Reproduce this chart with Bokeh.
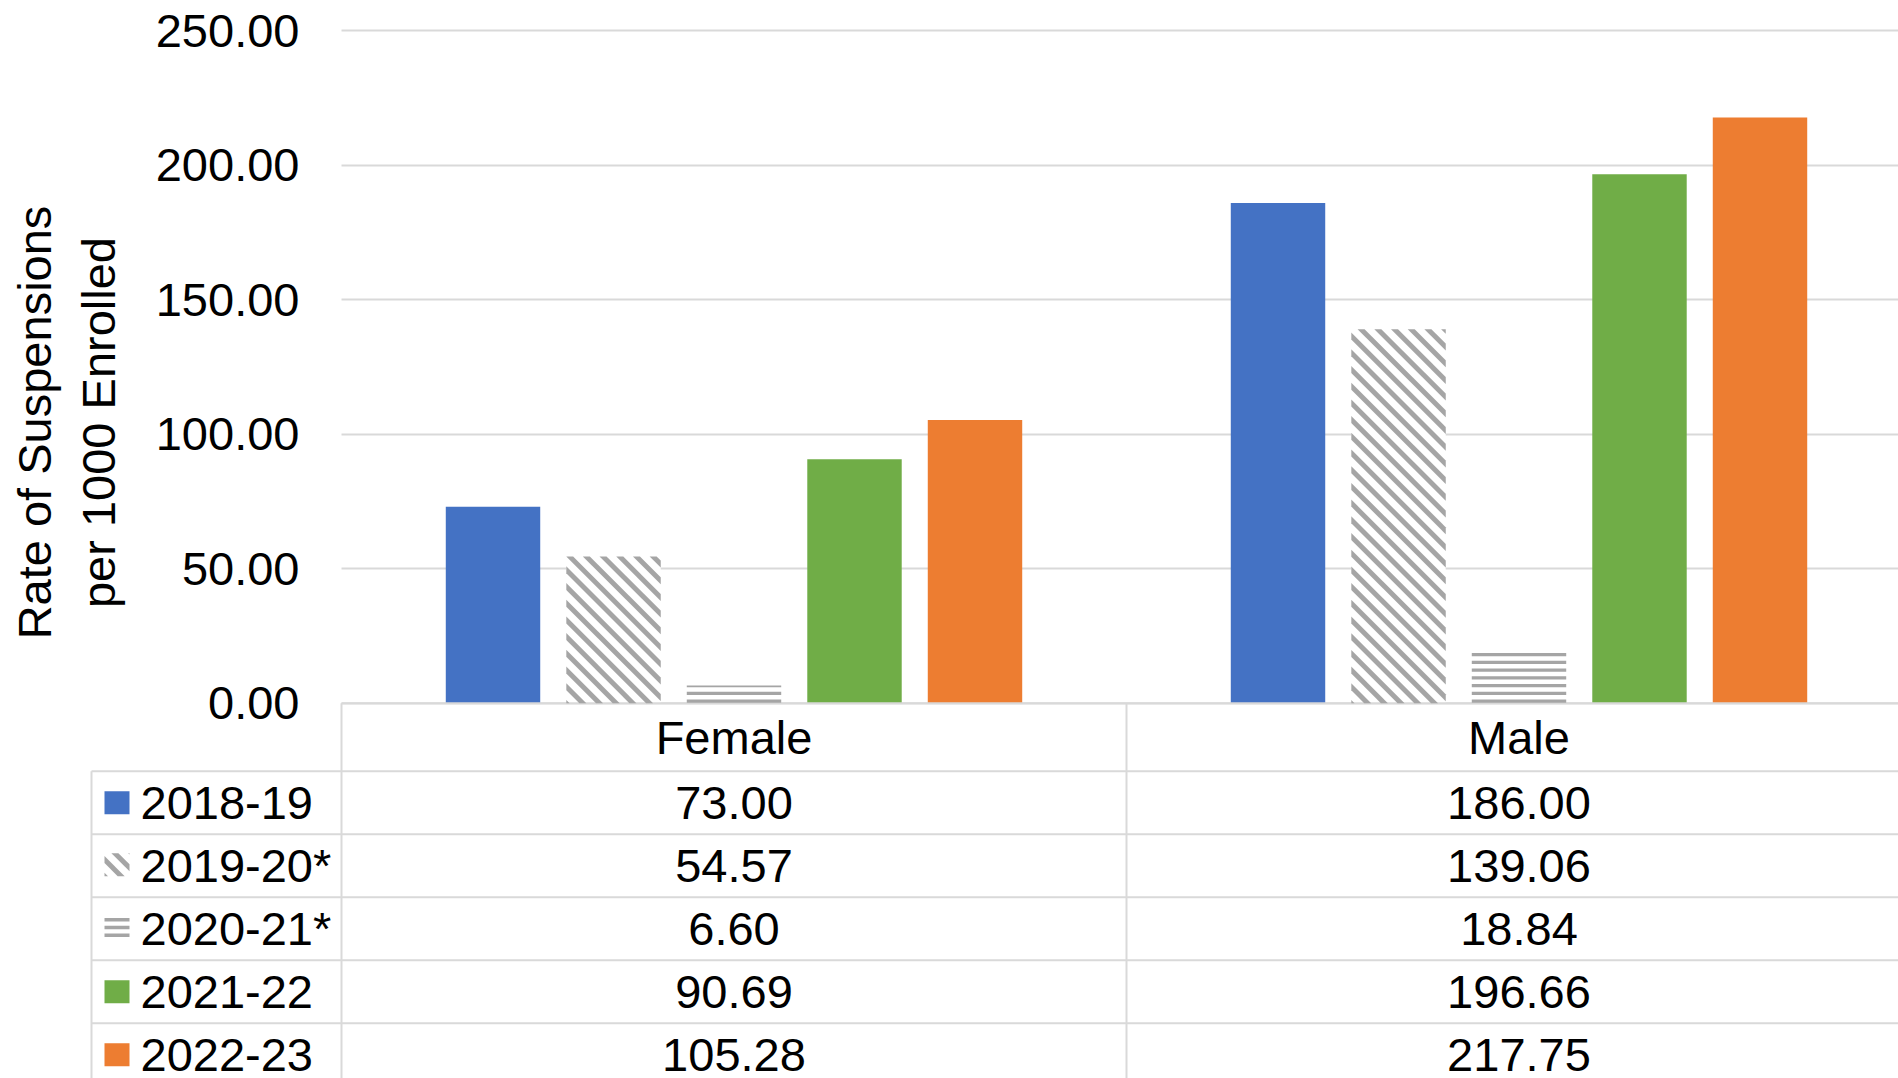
import math
from bokeh.plotting import figure
from bokeh.models import Range1d, FixedTicker, NumeralTickFormatter, Label, Grid
from bokeh.embed import file_html
from bokeh.resources import INLINE
from bokeh.core.properties import value

# ---- data ----
categories = ["Female", "Male"]
years = ["2018-19", "2019-20*", "2020-21*", "2021-22", "2022-23"]
rate_2018_19 = [73.00, 186.00]
rate_2019_20 = [54.57, 139.06]
rate_2020_21 = [6.60, 18.84]
rate_2021_22 = [90.69, 196.66]
rate_2022_23 = [105.28, 217.75]
y_ticks = [0, 50, 100, 150, 200, 250]
axis_title = "Rate of Suspensions\nper 1000 Enrolled"

series = [rate_2018_19, rate_2019_20, rate_2020_21, rate_2021_22, rate_2022_23]

# ---- styles ----
FONT = "Liberation Sans"
FS = "47px"
GRID = "#d9d9d9"
HATCH = "#a5a5a5"
fills = ["#4472C4", "white", "white", "#70AD47", "#ED7D31"]
patterns = [None, "diagonal", "horizontal", None, None]

# ---- layout constants (pixels) ----
W, H = 1898, 1078
PLOT_LEFT = 341.0        # x where the first category starts
PX_PER_CAT = 785.0       # width of one category
ZERO_Y = 702.7           # pixel row of value 0
PX_PER_VAL = 2.6896      # pixels per unit of value
STEP = 0.1535            # distance between bars of one category (in categories)
BAR_W = 0.1203
DIAG_PERIOD, DIAG_WIDTH = 16.7, 7.0
HORIZ_PERIOD, HORIZ_WIDTH = 7.75, 3.3

X_START = -PLOT_LEFT / PX_PER_CAT
X_END = (W - PLOT_LEFT) / PX_PER_CAT
Y_START = (ZERO_Y - H) / PX_PER_VAL
Y_END = ZERO_Y / PX_PER_VAL


def to_px_x(xd):
    return PLOT_LEFT + xd * PX_PER_CAT


def to_px_y(yd):
    return ZERO_Y - yd * PX_PER_VAL


def from_px_x(px):
    return (px - PLOT_LEFT) / PX_PER_CAT


def from_px_y(py):
    return (ZERO_Y - py) / PX_PER_VAL


def table_y(px_below_zero):
    return -px_below_zero / PX_PER_VAL


def _clip(poly, a, b, c):
    out = []
    n = len(poly)
    for i in range(n):
        P, Q = poly[i], poly[(i + 1) % n]
        fp = a * P[0] + b * P[1] - c
        fq = a * Q[0] + b * Q[1] - c
        if fp <= 0:
            out.append(P)
        if (fp < 0 < fq) or (fq < 0 < fp):
            t = fp / (fp - fq)
            out.append((P[0] + t * (Q[0] - P[0]), P[1] + t * (Q[1] - P[1])))
    return out


def stripes(xl, xr, yt, yb, kind, anchor_bottom):
    """Pattern stripes (pixel space) clipped to a rectangle, returned in data space."""
    rect = [(xl, yt), (xr, yt), (xr, yb), (xl, yb)]
    polys = []
    if kind == "diagonal":
        kmin = math.floor((yt - xr - DIAG_WIDTH) / DIAG_PERIOD)
        kmax = math.ceil((yb - xl) / DIAG_PERIOD)
        for k in range(kmin, kmax + 1):
            c0 = k * DIAG_PERIOD
            poly = _clip(rect, 1, -1, -c0)
            poly = _clip(poly, -1, 1, c0 + DIAG_WIDTH) if poly else poly
            if len(poly) >= 3:
                polys.append(poly)
    elif kind == "horizontal":
        k = 0
        while True:
            sb = anchor_bottom - k * HORIZ_PERIOD
            st = sb - HORIZ_WIDTH
            if sb <= yt:
                break
            top, bot = max(st, yt), min(sb, yb)
            if bot > top:
                polys.append([(xl, top), (xr, top), (xr, bot), (xl, bot)])
            k += 1
    xs = [[from_px_x(px) for px, _ in poly] for poly in polys]
    ys = [[from_px_y(py) for _, py in poly] for poly in polys]
    return xs, ys


p = figure(width=W, height=H, x_range=Range1d(X_START, X_END),
           y_range=Range1d(Y_START, Y_END), output_backend="svg",
           toolbar_location=None, x_axis_location=None, y_axis_location="left",
           min_border=0)
p.outline_line_color = None
p.background_fill_color = "white"
p.border_fill_color = "white"

# ---- bars ----
centers = [i + 0.5 for i in range(len(categories))]
n = len(series)
pat_xs, pat_ys = [], []
for j, (vals, fc, pat) in enumerate(zip(series, fills, patterns)):
    xs = [c + (j - (n - 1) / 2) * STEP for c in centers]
    p.vbar(x=xs, top=vals, bottom=0, width=BAR_W, fill_color=fc, line_color=None)
    if pat:
        for x, v in zip(xs, vals):
            sx, sy = stripes(to_px_x(x - BAR_W / 2), to_px_x(x + BAR_W / 2),
                             to_px_y(v), to_px_y(0), pat, to_px_y(0) - 0.4)
            pat_xs += sx
            pat_ys += sy

# ---- value axis ----
ax = p.yaxis[0]
ax.fixed_location = 0
ax.ticker = FixedTicker(ticks=y_ticks)
ax.formatter = NumeralTickFormatter(format="0.00")
ax.axis_line_color = None
ax.major_tick_line_color = None
ax.minor_tick_line_color = None
ax.major_tick_out = 0
ax.major_tick_in = 0
ax.major_label_standoff = 42
ax.major_label_text_font = FONT
ax.major_label_text_font_size = FS
ax.major_label_text_color = "black"

p.xgrid.visible = False
if "cross_bounds" in Grid.properties():
    p.ygrid.ticker = FixedTicker(ticks=y_ticks)
    p.ygrid.cross_bounds = (0, X_END)
    p.ygrid.grid_line_color = GRID
    p.ygrid.grid_line_width = 2
else:
    p.ygrid.visible = False
    p.segment(x0=[0] * len(y_ticks), y0=y_ticks, x1=[X_END] * len(y_ticks), y1=y_ticks,
              line_color=GRID, line_width=2, level="underlay")

p.add_layout(Label(x=66, y=H - 422, x_units="screen", y_units="screen", text=axis_title,
                   angle=1.5707963, text_align="center", text_baseline="middle",
                   text_font=FONT, text_font_size=FS, text_color="black",
                   text_line_height=1.2))

# ---- data table ----
HEADER_H = 68
ROW_H = 63
LEG_LEFT = from_px_x(91)
MARK_PX = 116.5
LABEL_X = from_px_x(140)
MARK_W, MARK_H = 25, 23

row_tops = [HEADER_H + k * ROW_H for k in range(len(years) + 1)]
bottom = table_y(row_tops[-1])
hx0 = [0.0] + [LEG_LEFT] * (len(row_tops) - 1)
hy = [0.0] + [table_y(r) for r in row_tops[:-1]]
p.segment(x0=hx0, y0=hy, x1=[X_END + 1] * len(hy), y1=hy, line_color=GRID, line_width=2)
vx = [LEG_LEFT] + [float(i) for i in range(len(categories) + 1)]
vy0 = [table_y(HEADER_H)] + [0.0] * (len(categories) + 1)
p.segment(x0=vx, y0=vy0, x1=vx, y1=[bottom] * len(vx), line_color=GRID, line_width=2)

p.text(x=centers, y=[table_y(HEADER_H / 2)] * len(categories), text=categories,
       text_align="center", text_baseline="middle", text_font=value(FONT),
       text_font_size=FS, text_color="black")

for j, (yr, vals, fc, pat) in enumerate(zip(years, series, fills, patterns)):
    yc_px = ZERO_Y + HEADER_H + j * ROW_H + ROW_H / 2
    yc = from_px_y(yc_px)
    if pat:
        sx, sy = stripes(MARK_PX - MARK_W / 2, MARK_PX + MARK_W / 2,
                         yc_px - MARK_H / 2 - 1, yc_px + MARK_H / 2 - 1, pat,
                         yc_px + MARK_H / 2 - 3.3)
        pat_xs += sx
        pat_ys += sy
    else:
        p.rect(x=[from_px_x(MARK_PX)], y=[yc], width=MARK_W, height=MARK_H,
               width_units="screen", height_units="screen", fill_color=fc, line_color=None)
    p.text(x=[LABEL_X], y=[yc], text=[yr], text_align="left", text_baseline="middle",
           text_font=value(FONT), text_font_size=FS, text_color="black")
    p.text(x=centers, y=[yc] * len(vals), text=[f"{v:.2f}" for v in vals],
           text_align="center", text_baseline="middle", text_font=value(FONT),
           text_font_size=FS, text_color="black")

# pattern stripes of the hatched series
p.patches(xs=pat_xs, ys=pat_ys, fill_color=HATCH, line_color=None)

open("out.html", "w").write(file_html(p, INLINE))
